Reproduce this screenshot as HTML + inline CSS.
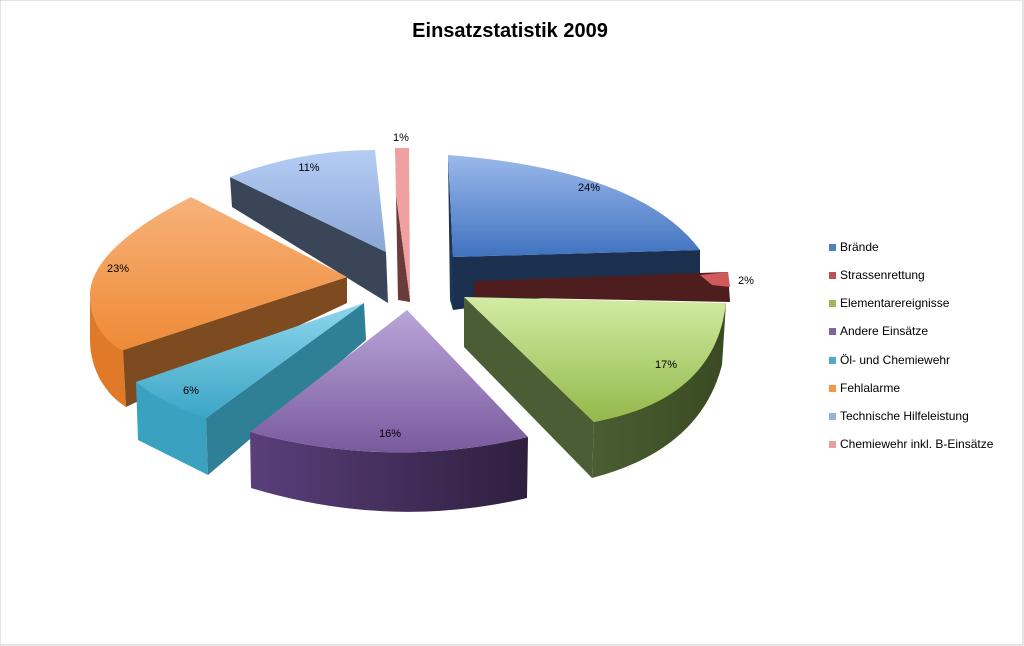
<!DOCTYPE html>
<html><head><meta charset="utf-8"><style>
html,body{margin:0;padding:0;background:#fff;}
body{width:1024px;height:646px;overflow:hidden;position:relative;}
svg{position:absolute;left:0;top:0;}
</style></head><body>
<svg width="1024" height="646" viewBox="0 0 1024 646" font-family="'Liberation Sans', sans-serif">
<defs>
<linearGradient id="gBlue" x1="0" y1="0" x2="0" y2="1"><stop offset="0" stop-color="#9bb9ec"/><stop offset="1" stop-color="#3f72bf"/></linearGradient>
<linearGradient id="gGreen" x1="0" y1="0" x2="0" y2="1"><stop offset="0" stop-color="#d2eca4"/><stop offset="1" stop-color="#93b84a"/></linearGradient>
<linearGradient id="gPurple" x1="0" y1="0" x2="0" y2="1"><stop offset="0" stop-color="#b9a6d9"/><stop offset="1" stop-color="#7a5a9e"/></linearGradient>
<linearGradient id="gCyan" x1="0" y1="0" x2="0" y2="1"><stop offset="0" stop-color="#8ed6ec"/><stop offset="1" stop-color="#3aa5c6"/></linearGradient>
<linearGradient id="gOrange" x1="0" y1="0" x2="0" y2="1"><stop offset="0" stop-color="#f7b27a"/><stop offset="1" stop-color="#ee8a36"/></linearGradient>
<linearGradient id="gLB" x1="0" y1="0" x2="0" y2="1"><stop offset="0" stop-color="#b5cdf4"/><stop offset="1" stop-color="#8aa6d8"/></linearGradient>
<linearGradient id="gPurpSide" x1="0" y1="0" x2="1" y2="0"><stop offset="0" stop-color="#5a3f7a"/><stop offset="1" stop-color="#2e1f3f"/></linearGradient>
<linearGradient id="gGreenSide" x1="0" y1="0" x2="1" y2="0"><stop offset="0" stop-color="#4a5e33"/><stop offset="1" stop-color="#3a4a20"/></linearGradient>
</defs>
<rect x="0" y="0" width="1023" height="645" fill="#fff" stroke="#c8c8c8" stroke-width="1"/>
<text x="510" y="37" text-anchor="middle" font-size="20" font-weight="bold" fill="#000">Einsatzstatistik 2009</text>

<polygon points="230,177 386,252 388,303 232,207" fill="#3b4558"/>
<path d="M230,177 Q300,150 375,150 L386,252 Z" fill="url(#gLB)"/>
<polygon points="396,195 410,300 410,302 398,300" fill="#6b3b3b"/>
<polygon points="395,148 409,148 410,300 396,195" fill="#f0a0a0"/>

<path d="M90,295 C90,320 105,342 123,350 L126,407 C102,392 90,365 90,340 Z" fill="#e07a28"/>
<polygon points="123,350 347,277 347,303 126,407" fill="#7e4a20"/>
<path d="M347,277 L191,197 C130,228 90,262 90,295 C90,320 105,342 123,350 Z" fill="url(#gOrange)"/>

<polygon points="136,382 206,418 208,475 138,440" fill="#3aa2c0"/>
<polygon points="206,418 364,303 366,340 208,475" fill="#2f7f96"/>
<path d="M364,303 L206,418 Q165,405 136,382 Z" fill="url(#gCyan)"/>

<path d="M250,432 Q390,470 528,437 L527,498 Q390,530 251,488 Z" fill="url(#gPurpSide)"/>
<path d="M407,310 L528,437 Q390,470 250,432 Z" fill="url(#gPurple)"/>

<polygon points="448,155 453,257 453,310 450,300" fill="#1e3556"/>
<polygon points="453,257 700,250 700,277 453,310" fill="#1b2f4f"/>
<path d="M448,155 Q640,170 700,250 L453,257 Z" fill="url(#gBlue)"/>

<polygon points="474,281 728,272 730,302 474,297" fill="#4e1e1e"/>
<polygon points="700,275 728,272 730,287 712,285" fill="#d05a5a"/>

<path d="M464,297 L594,422 L592,478 L464,347 Z" fill="#4a5d35"/>
<path d="M594,422 Q700,400 726,303 L722,365 Q700,450 592,478 Z" fill="url(#gGreenSide)"/>
<path d="M464,297 L726,303 Q715,400 594,422 Z" fill="url(#gGreen)"/>

<g font-size="11" fill="#000" text-anchor="middle">
<text x="401" y="141">1%</text>
<text x="309" y="171">11%</text>
<text x="589" y="191">24%</text>
<text x="746" y="284">2%</text>
<text x="118" y="272">23%</text>
<text x="191" y="394">6%</text>
<text x="666" y="368">17%</text>
<text x="390" y="437">16%</text>
</g>
<g font-size="12" fill="#000">
<rect x="829" y="244" width="7" height="7" fill="#4f81bd"/><text x="840" y="251">Brände</text>
<rect x="829" y="272" width="7" height="7" fill="#c0504d"/><text x="840" y="279">Strassenrettung</text>
<rect x="829" y="300" width="7" height="7" fill="#9bbb59"/><text x="840" y="307">Elementarereignisse</text>
<rect x="829" y="328" width="7" height="7" fill="#8064a2"/><text x="840" y="335">Andere Einsätze</text>
<rect x="829" y="357" width="7" height="7" fill="#4bacc6"/><text x="840" y="364">Öl- und Chemiewehr</text>
<rect x="829" y="385" width="7" height="7" fill="#f79646"/><text x="840" y="392">Fehlalarme</text>
<rect x="829" y="413" width="7" height="7" fill="#95b3d7"/><text x="840" y="420">Technische Hilfeleistung</text>
<rect x="829" y="441" width="7" height="7" fill="#e6a0a0"/><text x="840" y="448">Chemiewehr inkl. B-Einsätze</text>
</g>
</svg>
</body></html>
